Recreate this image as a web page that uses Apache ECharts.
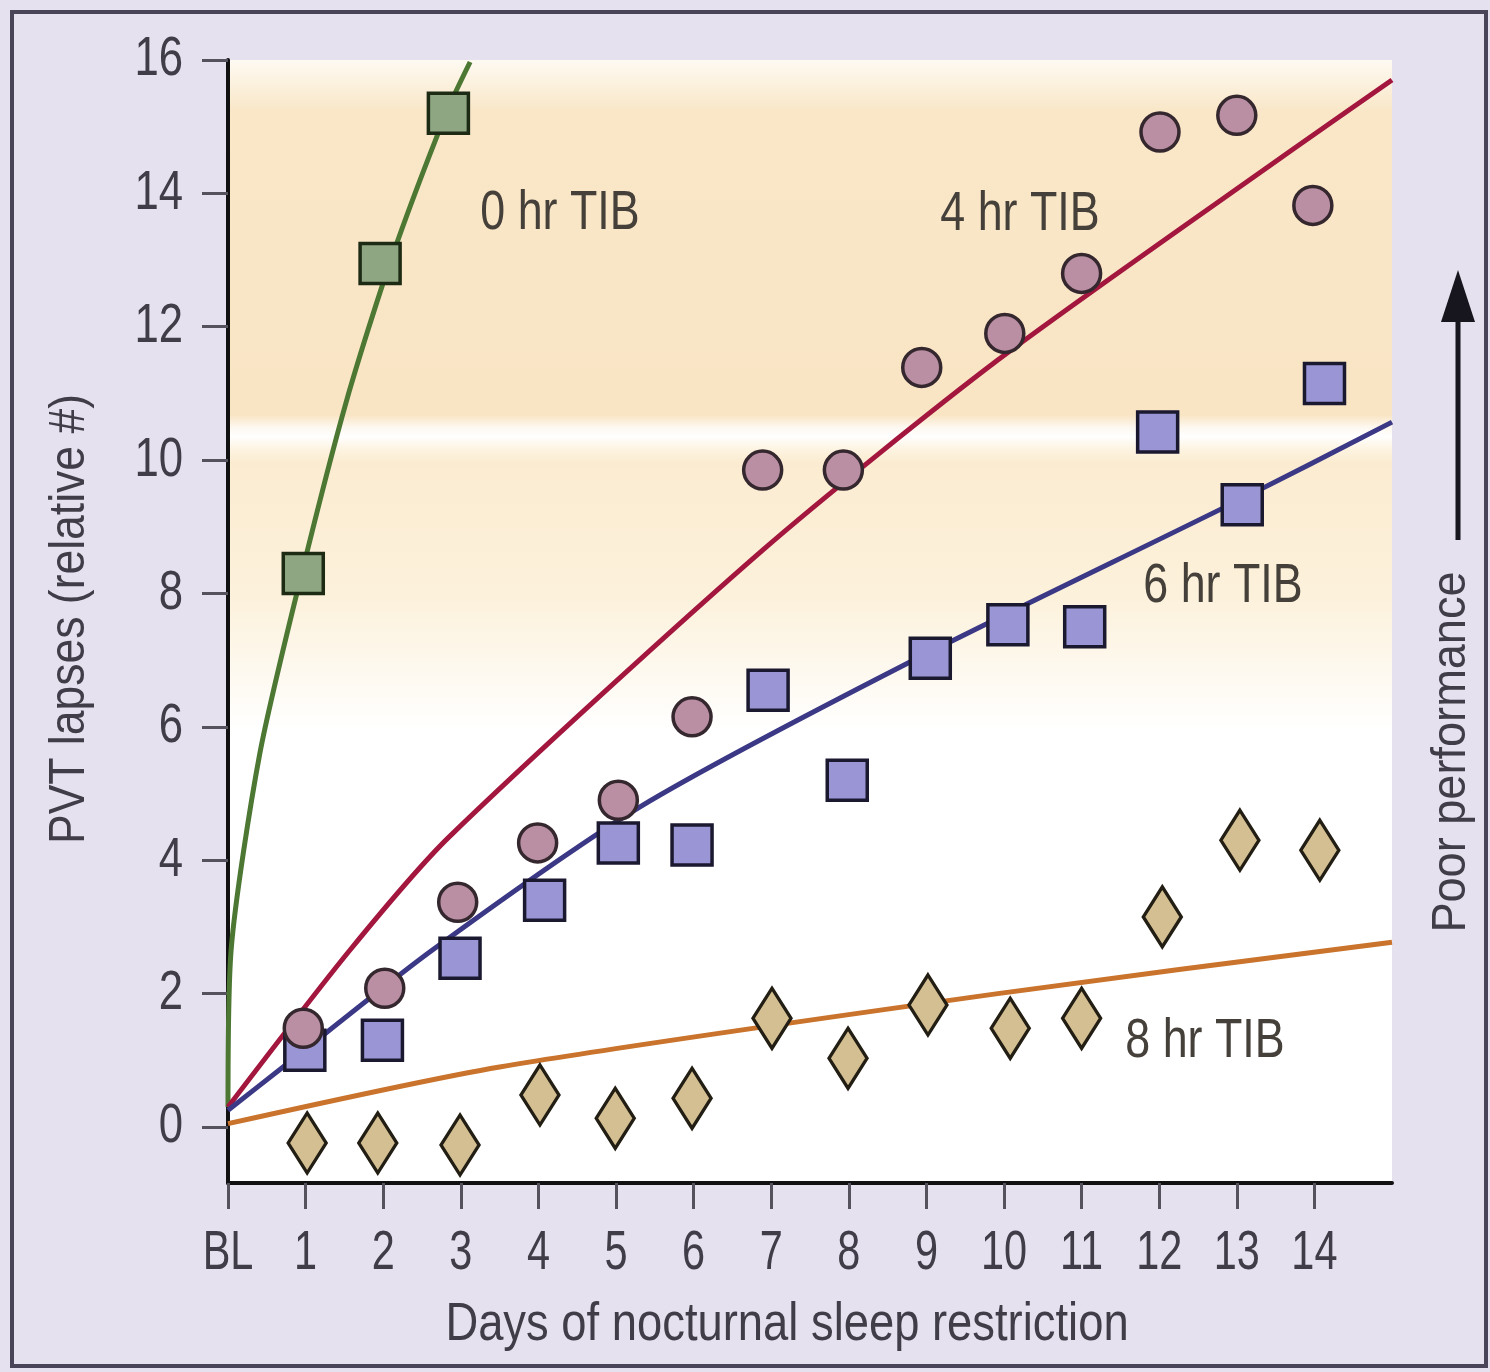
<!DOCTYPE html>
<html>
<head>
<meta charset="utf-8">
<script src="https://cdn.jsdelivr.net/npm/echarts@6/dist/echarts.min.js"></script>
<style>
  html, body { margin: 0; padding: 0; background: #e5e1ee; }
  #chart { width: 1490px; height: 1372px; }
</style>
</head>
<body>
<div id="chart"></div>
<script>
// tick labels
const xTickValues = [0, 1, 2, 3, 4, 5, 6, 7, 8, 9, 10, 11, 12, 13, 14];
const xTickLabels = ['BL', '1', '2', '3', '4', '5', '6', '7', '8', '9', '10', '11', '12', '13', '14'];
const yTickValues = [0, 2, 4, 6, 8, 10, 12, 14, 16];

// 0 hr TIB (squares) + fitted curve
const hr0X = [0.97, 1.96, 2.84];
const hr0Y = [8.3, 12.95, 15.2];
const hr0FitX = [0, 0.04, 0.41, 0.95, 1.53, 2.09, 2.81, 3.12];
const hr0FitY = [0.3, 2.65, 5.6, 8.3, 10.9, 12.97, 15.2, 15.97];

// 4 hr TIB (circles) + fitted curve
const hr4X = [0.97, 2.02, 2.96, 3.99, 5.03, 5.98, 6.89, 7.93, 8.94, 10.01, 11.0, 12.01, 13.0, 13.98];
const hr4Y = [1.48, 2.08, 3.37, 4.26, 4.9, 6.15, 9.85, 9.85, 11.39, 11.9, 12.8, 14.92, 15.17, 13.82];
const hr4FitX = [0, 1.57, 2.85, 6.89, 9.92, 13.71, 15];
const hr4FitY = [0.3, 2.65, 4.35, 8.65, 11.5, 14.65, 15.7];

// 6 hr TIB (squares) + fitted curve
const hr6X = [0.99, 1.99, 2.99, 4.08, 5.03, 5.98, 6.96, 7.98, 9.05, 10.05, 11.04, 11.98, 13.07, 14.13];
const hr6Y = [1.15, 1.3, 2.53, 3.4, 4.26, 4.23, 6.55, 5.2, 7.03, 7.53, 7.5, 10.42, 9.33, 11.15];
const hr6FitX = [0, 0.71, 2.63, 5.31, 8.77, 13.03, 15];
const hr6FitY = [0.25, 0.9, 2.65, 4.8, 6.96, 9.4, 10.57];

// 8 hr TIB (diamonds) + fitted line
const hr8X = [1.02, 1.93, 2.99, 4.02, 4.99, 5.98, 7.01, 7.99, 9.02, 10.08, 11.0, 12.04, 13.04, 14.07];
const hr8Y = [-0.24, -0.24, -0.27, 0.48, 0.13, 0.43, 1.63, 1.03, 1.83, 1.48, 1.63, 3.15, 4.3, 4.15];
const hr8FitX = [0, 3.5, 9.92, 15];
const hr8FitY = [0.05, 0.9, 2.0, 2.77];

const zip = (xs, ys) => xs.map((x, i) => [x, ys[i]]);

const FONT = '"Liberation Sans", Arial, sans-serif';
const TXT = '#403d48';
const LBL = '#45403a';

const chart = echarts.init(document.getElementById('chart'));

function lineSeries(name, xs, ys, color) {
  return {
    name: name,
    type: 'line',
    data: zip(xs, ys),
    showSymbol: false,
    smooth: 0.25,
    lineStyle: { color: color, width: 5 },
    z: 2,
    silent: true
  };
}

function scatterSeries(name, xs, ys, symbol, size, fill, border, z) {
  return {
    name: name,
    type: 'scatter',
    data: zip(xs, ys),
    symbol: symbol,
    symbolSize: size,
    itemStyle: { color: fill, borderColor: border, borderWidth: 3.5, opacity: 1 },
    z: z
  };
}

chart.setOption({
  animation: false,
  backgroundColor: '#e5e1ee',
  grid: { left: 228, right: 98, top: 60, bottom: 189 },
  xAxis: {
    type: 'value',
    min: 0,
    max: 15,
    axisLine: { show: true, onZero: false, lineStyle: { color: '#111111', width: 4 } },
    axisTick: { show: true, customValues: xTickValues, length: 26, lineStyle: { color: '#55525e', width: 3 } },
    axisLabel: { show: false },
    splitLine: { show: false }
  },
  yAxis: {
    type: 'value',
    min: -0.84,
    max: 16,
    axisLine: { show: true, onZero: false, lineStyle: { color: '#111111', width: 4 } },
    axisTick: { show: true, customValues: yTickValues, length: 26, lineStyle: { color: '#55525e', width: 3 } },
    axisLabel: { show: false },
    splitLine: { show: false }
  },
  series: [
    lineSeries('0 hr fit', hr0FitX, hr0FitY, '#4c7834'),
    lineSeries('4 hr fit', hr4FitX, hr4FitY, '#a3173f'),
    lineSeries('6 hr fit', hr6FitX, hr6FitY, '#3b3886'),
    lineSeries('8 hr fit', hr8FitX, hr8FitY, '#c9732c'),
    scatterSeries('8 hr TIB', hr8X, hr8Y, 'diamond', [38, 60], '#d3bf92', '#231e14', 3),
    scatterSeries('6 hr TIB', hr6X, hr6Y, 'rect', 40, '#9a96d6', '#1b1930', 4),
    scatterSeries('4 hr TIB', hr4X, hr4Y, 'circle', 38, '#ba8fa3', '#35272e', 5),
    scatterSeries('0 hr TIB', hr0X, hr0Y, 'rect', 40, '#8ea782', '#1d2a14', 6)
  ]
});

// narrow text (condensed look) drawn as graphic text
function txt(text, x, y, size, sx, opts) {
  const o = opts || {};
  return {
    type: 'text', z: 10, x: x, y: y, scaleX: sx, rotation: o.rotation || 0,
    style: {
      text: text, fontSize: size, fontFamily: FONT, fill: o.fill || TXT,
      align: o.align || 'center', verticalAlign: 'middle'
    }
  };
}

const graphics = [
  { type: 'rect', z: -20, shape: { x: 12, y: 12, width: 1474, height: 1354 },
    style: { fill: 'none', stroke: '#4a4458', lineWidth: 4 } },
  { type: 'rect', z: -20, shape: { x: 230, y: 60, width: 1162, height: 1123 },
    style: { fill: '#ffffff' } },
  { type: 'rect', z: -19, shape: { x: 230, y: 60, width: 1162, height: 670 },
    style: {
      fill: new echarts.graphic.LinearGradient(0, 0, 0, 1, [
        { offset: 0, color: '#fefaf2' },
        { offset: 0.075, color: '#f9e7c8' },
        { offset: 0.53, color: '#f9e5c4' },
        { offset: 0.548, color: '#fdf8ef' },
        { offset: 0.562, color: '#ffffff' },
        { offset: 0.58, color: '#fdf4e2' },
        { offset: 0.6, color: '#fbecd1' },
        { offset: 0.8, color: '#fcf1db' },
        { offset: 1, color: '#ffffff' }
      ])
    } },
  txt('0 hr TIB', 560, 214, 56, 0.8, { fill: LBL }),
  txt('4 hr TIB', 1020, 215, 56, 0.8, { fill: LBL }),
  txt('6 hr TIB', 1223, 587, 56, 0.8, { fill: LBL }),
  txt('8 hr TIB', 1205, 1042, 56, 0.8, { fill: LBL }),
  txt('Days of nocturnal sleep restriction', 787, 1325, 54, 0.84),
  txt('PVT lapses (relative #)', 70, 619, 50, 0.89, { rotation: Math.PI / 2 }),
  txt('Poor performance', 1452, 752, 48, 0.94, { rotation: Math.PI / 2 }),
  { type: 'line', z: 10, shape: { x1: 1458, y1: 540, x2: 1458, y2: 315 },
    style: { stroke: '#17151e', lineWidth: 5 } },
  { type: 'polygon', z: 10, shape: { points: [[1458, 270], [1441, 322], [1475, 322]] },
    style: { fill: '#17151e' } }
];

xTickValues.forEach((v, i) => {
  const px = chart.convertToPixel({ xAxisIndex: 0 }, v);
  graphics.push(txt(xTickLabels[i], px, 1254, 56, 0.74));
});
yTickValues.forEach(v => {
  const py = chart.convertToPixel({ yAxisIndex: 0 }, v);
  graphics.push(txt(String(v), 183, py, 56, 0.78, { align: 'right' }));
});

chart.setOption({ graphic: graphics });
</script>
</body>
</html>
